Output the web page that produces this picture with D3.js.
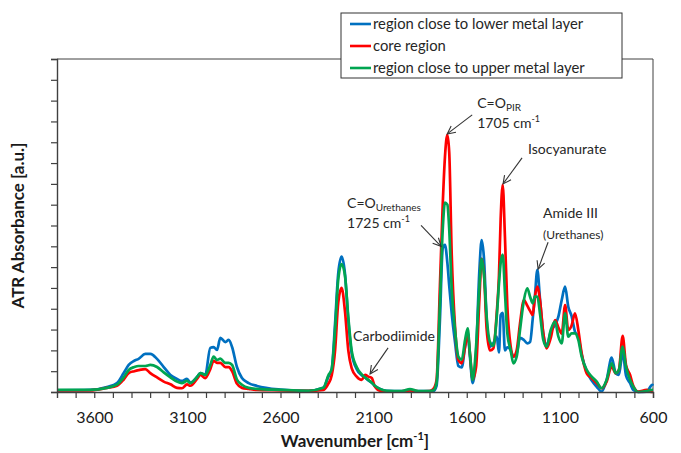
<!DOCTYPE html>
<html>
<head>
<meta charset="utf-8">
<script src="https://cdn.jsdelivr.net/npm/d3@7"></script>
<style>
    html, body { margin: 0; padding: 0; background: #fff; }
    svg { display: block; font-family: Lato, "Open Sans", sans-serif; }
</style>
</head>
<body>
<svg id="chart" width="681" height="453"></svg>
<script>
// Spectra (wavenumber in cm-1, absorbance in a.u.)
const wavenumbers = [
    3800, 3621, 3532, 3478, 3442, 3415, 3385, 3362, 3326, 3299, 3263, 3227, 3191, 3156, 3129, 3102,
    3084, 3048, 3030, 3004, 2977, 2959, 2941, 2923, 2896, 2878, 2860, 2834, 2807, 2771, 2726,
    2600, 2450,
    2370, 2343, 2325, 2307, 2290, 2272, 2254, 2236, 2218, 2191, 2164, 2146, 2128, 2110, 2093, 2066, 2030,
    1950, 1905, 1860, 1800,
    1779, 1762, 1744, 1729, 1717, 1704, 1694, 1681, 1663, 1645, 1627, 1609, 1595, 1583, 1568,
    1550, 1532, 1520, 1507, 1493, 1475, 1457, 1439, 1427, 1418, 1407, 1395, 1382, 1364,
    1350, 1332, 1314, 1293, 1275, 1260, 1246, 1234, 1221, 1207, 1189, 1171, 1149, 1126, 1108, 1090,
    1072, 1055, 1037, 1019, 1001, 983, 956, 929, 902, 876, 849, 822, 800, 783, 763, 745, 723, 706,
    679, 634, 604,
    600
];

const lowerLayer = [
    .008, .01, .024, .043, .091, .13, .15, .159, .183, .183, .159, .12, .082, .063, .053, .063,
    .045, .072, .091, .082, .212, .216, .202, .26, .24, .25, .216, .12, .067, .043, .029,
    .012, .006,
    .02, .074, .11, .33, .57, .65, .57, .346, .187, .11, .08, .07, .055, .045, .028, .015, .006,
    .004, .008, .004, .004,
    .005, .03, .346, .69, .707, .62, .51, .38, .24, .125, .118, .218, .283, .17, .043,
    .187, .587, .73, .635, .346, .218, .235, .266, .19, .37, .38, .2, .215, .2,
    .17, .186, .26, .25, .234, .24, .35, .46, .587, .45, .28, .222, .29, .322, .362, .442,
    .506, .41, .365, .29, .266, .18, .10, .055, .025, .002, .058, .165, .09, .082, .19, .08, .042, .01,
    0, .002, .034,
    .03
];

const coreRegion = [
    .008, .008, .02, .03, .06, .091, .1, .105, .11, .091, .07, .05, .037, .02, .018, .037,
    .03, .063, .082, .067, .11, .15, .14, .14, .12, .12, .10, .04, .02, .015, .01,
    .008, .005,
    .01, .04, .08, .20, .43, .50, .39, .20, .115, .074, .058, .082, .074, .067, .026, .006, .003,
    .003, .008, .003, .004,
    .015, .058, .51, .90, 1.13, 1.236, 1.15, .67, .314, .154, .138, .218, .283, .187, .06,
    .12, .45, .64, .56, .30, .20, .21, .38, .56, .83, .995, .747, .41, .218,
    .17, .2, .33, .442, .415, .39, .37, .458, .506, .442, .282, .21, .26, .346, .31, .28,
    .418, .298, .32, .378, .298, .186, .09, .066, .042, .018, .05, .122, .09, .106, .27, .13, .082, .03,
    .002, .01, 0,
    0
];

const upperLayer = [
    .01, .01, .02, .035, .07, .106, .12, .125, .125, .13, .12, .094, .07, .05, .043, .053,
    .043, .072, .091, .082, .13, .17, .154, .16, .14, .14, .13, .06, .035, .02, .015,
    .01, .006,
    .02, .08, .11, .30, .54, .615, .56, .36, .20, .12, .085, .07, .058, .045, .03, .015, .006,
    .004, .014, .004, .004,
    .008, .045, .426, .78, .91, .90, .78, .50, .30, .17, .155, .25, .306, .187, .058,
    .218, .506, .64, .56, .36, .24, .222, .36, .52, .62, .66, .48, .28, .2,
    .138, .17, .298, .442, .498, .458, .426, .458, .458, .378, .25, .218, .298, .338, .266, .234,
    .378, .266, .282, .282, .25, .17, .106, .074, .05, .018, .058, .138, .09, .106, .218, .122, .058, .026,
    0, .005, .01,
    .01
];

const seriesNames = ['region close to lower metal layer', 'core region', 'region close to upper metal layer'];
const seriesColors = ['#0070C0', '#FF0000', '#00A550'];
const xTickLabels = [3600, 3100, 2600, 2100, 1600, 1100, 600];

// Annotation anchors (arrow tip on the spectrum)
const annotationLabels = ['C=O PIR', 'Isocyanurate', 'C=O Urethanes', 'Amide III', 'Carbodiimide'];
const annotationWavenumbers = [1705, 1405, 1738, 1217, 2119];
const annotationValues = [1.24, 1.0, 0.70, 0.59, 0.087];

[lowerLayer, coreRegion, upperLayer].forEach((s, i) => {
    if (s.length !== wavenumbers.length) throw new Error('series ' + i + ' has ' + s.length + ' values, expected ' + wavenumbers.length);
});

const svg = d3.select('#chart');
const margin = { top: 59, right: 28, bottom: 61, left: 57 };
const width = 681, height = 453;

const x = d3.scaleLinear().domain([3800, 600]).range([margin.left, width - margin.right]);
const y = d3.scaleLinear().domain([0, 1.6]).range([height - margin.bottom, margin.top]);

// Plot frame (top and right)
svg.append('path')
    .attr('d', `M${x(3800)},${y(1.6)}H${x(600)}V${y(0)}`)
    .attr('fill', 'none')
    .attr('stroke', '#404040')
    .attr('stroke-width', 1);

// Spectra
const line = d3.line()
    .x(d => x(d[0]))
    .y(d => y(d[1]))
    .curve(d3.curveMonotoneX);

[lowerLayer, coreRegion, upperLayer].forEach((values, i) => {
    svg.append('path')
        .datum(wavenumbers.map((w, j) => [w, values[j]]))
        .attr('d', line)
        .attr('fill', 'none')
        .attr('stroke', seriesColors[i])
        .attr('stroke-width', 2.7)
        .attr('stroke-linejoin', 'round');
});

// Axes
const xAxis = d3.axisBottom(x)
    .tickValues(d3.range(3700, 599, -100))
    .tickSize(6)
    .tickPadding(14)
    .tickFormat(d => xTickLabels.includes(d) ? d : '');

const gx = svg.append('g')
    .attr('transform', `translate(0,${y(0)})`)
    .call(xAxis);
gx.select('.domain').attr('stroke', '#404040').attr('stroke-width', 1.4);
gx.selectAll('.tick line').attr('stroke', '#404040').attr('stroke-width', 1.2);
gx.selectAll('.tick text')
    .attr('font-family', 'Lato, "Open Sans", sans-serif')
    .attr('font-size', 16)
    .attr('fill', '#1a1a1a');

const yAxis = d3.axisLeft(y)
    .tickValues(d3.range(0, 1.61, 0.1))
    .tickSize(6)
    .tickFormat('');

const gy = svg.append('g')
    .attr('transform', `translate(${x(3800)},0)`)
    .call(yAxis);
gy.select('.domain').attr('stroke', '#404040').attr('stroke-width', 1.4);
gy.selectAll('.tick line').attr('stroke', '#404040').attr('stroke-width', 1.2);

// Axis titles
const xTitle = svg.append('text')
    .attr('x', (x(3800) + x(600)) / 2)
    .attr('y', 447)
    .attr('text-anchor', 'middle')
    .attr('font-size', 17)
    .attr('font-weight', 'bold')
    .attr('fill', '#1a1a1a');
xTitle.append('tspan').text('Wavenumber [cm');
xTitle.append('tspan').attr('font-size', 11).attr('dy', -7).text('-1');
xTitle.append('tspan').attr('dy', 7).text(']');

svg.append('text')
    .attr('transform', `translate(24,${(y(0) + y(1.6)) / 2}) rotate(-90)`)
    .attr('text-anchor', 'middle')
    .attr('font-size', 17)
    .attr('font-weight', 'bold')
    .attr('fill', '#1a1a1a')
    .text('ATR Absorbance [a.u.]');

// Annotations
svg.append('defs').append('marker')
    .attr('id', 'arrow')
    .attr('viewBox', '-10 -6 12 12')
    .attr('refX', 0)
    .attr('refY', 0)
    .attr('markerWidth', 12)
    .attr('markerHeight', 12)
    .attr('markerUnits', 'userSpaceOnUse')
    .attr('orient', 'auto')
    .append('path')
    .attr('d', 'M-8,-4L0,0L-8,4')
    .attr('fill', 'none')
    .attr('stroke', '#333')
    .attr('stroke-width', 1.1);

// tail offset, text offset and text lines per annotation
const annotationLayout = [
    { tail: [25, -19], text: [30, -26], lines: [['C=O', 'PIR'], ['1705 cm', '-1']] },
    { tail: [19, -26], text: [25, -30], lines: [['Isocyanurate']] },
    { tail: [-20, -21], text: [-94, -38], lines: [['C=O', 'Urethanes'], ['1725 cm', '-1']] },
    { tail: [10, -27], text: [5, -51], lines: [['Amide III'], ['(Urethanes)']] },
    { tail: [18, -26], text: [-17, -33], lines: [['Carbodiimide']] }
];

annotationLabels.forEach((label, i) => {
    const tx = x(annotationWavenumbers[i]);
    const ty = y(annotationValues[i]);
    const lay = annotationLayout[i];

    svg.append('line')
        .attr('x1', tx + lay.tail[0])
        .attr('y1', ty + lay.tail[1])
        .attr('x2', tx)
        .attr('y2', ty)
        .attr('stroke', '#333')
        .attr('stroke-width', 1.1)
        .attr('marker-end', 'url(#arrow)');

    lay.lines.forEach((parts, k) => {
        const small = label === 'Amide III' && k === 1;
        const t = svg.append('text')
            .attr('x', tx + lay.text[0])
            .attr('y', ty + lay.text[1] + k * (small ? 21 : 20))
            .attr('font-size', small ? 12 : 14)
            .attr('fill', '#262626');
        t.append('tspan').text(parts[0]);
        if (parts[1]) {
            const isSup = parts[1] === '-1';
            t.append('tspan')
                .attr('font-size', isSup ? 9 : 10)
                .attr('dy', isSup ? -6 : 3)
                .text(parts[1]);
        }
    });
});

// Legend
const legend = svg.append('g').attr('transform', 'translate(341,13)');
legend.append('rect')
    .attr('width', 281)
    .attr('height', 65)
    .attr('fill', '#fff')
    .attr('stroke', '#333')
    .attr('stroke-width', 1);

seriesNames.forEach((name, i) => {
    const row = legend.append('g').attr('transform', `translate(0,${11 + i * 22})`);
    row.append('line')
        .attr('x1', 9).attr('x2', 30)
        .attr('y1', 0).attr('y2', 0)
        .attr('stroke', seriesColors[i])
        .attr('stroke-width', 2.6);
    row.append('text')
        .attr('x', 32)
        .attr('y', 0)
        .attr('dy', '0.35em')
        .attr('font-size', 14.8)
        .attr('fill', '#262626')
        .text(name);
});
</script>
</body>
</html>
